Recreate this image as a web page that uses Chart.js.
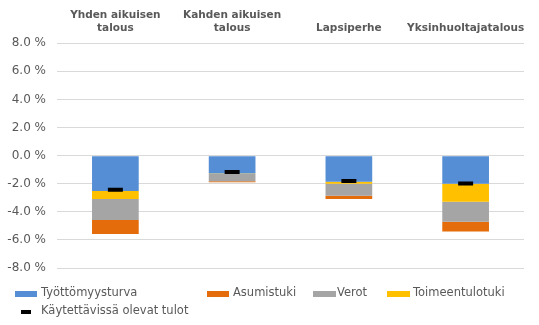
<!DOCTYPE html>
<html>
<head>
<meta charset="utf-8">
<script src="https://cdn.jsdelivr.net/npm/chart.js@4/dist/chart.umd.min.js"></script>
<style>
  html, body { margin: 0; padding: 0; background: #fff; }
  #wrap { width: 539px; height: 325px; }
</style>
</head>
<body>
<div id="wrap"><canvas id="chartCanvas" width="539" height="325"></canvas></div>
<script>
// kotitaloustyypit (x-akseli ylhäällä)
const categories = [['Yhden aikuisen', 'talous'], ['Kahden aikuisen', 'talous'], 'Lapsiperhe', 'Yksinhuoltajatalous'];

// muutokset prosentteina
const tyottomyysturva = [-2.52, -1.27, -1.86, -2.0];
const toimeentulotuki = [-0.57, -0.04, -0.14, -1.28];
const verot = [-1.49, -0.52, -0.85, -1.42];
const asumistuki = [-1.0, -0.07, -0.23, -0.71];
const kaytettavissaOlevatTulot = [-2.43, -1.17, -1.81, -1.98];

const yTicks = [-8, -6, -4, -2, 0, 2, 4, 6, 8];

const textColor = '#595959';
const fontFamily = '"DejaVu Sans", Verdana, sans-serif';

// legenda piirretään itse, Excel-tyyliset sarakkeet
const legendPlugin = {
  id: 'excelLegend',
  afterDraw(chart) {
    const ctx = chart.ctx;
    const items = [
      { ds: 0, box: [15, 291, 22, 6], text: 41, ty: 293 },
      { ds: 3, box: [207, 291, 22, 6], text: 233, ty: 293 },
      { ds: 2, box: [313, 291, 23, 6], text: 337, ty: 293 },
      { ds: 1, box: [387, 291, 23, 6], text: 413, ty: 293 },
      { ds: 4, box: [21, 310, 10, 4], text: 41, ty: 311 },
    ];
    ctx.save();
    ctx.font = '11.5px ' + fontFamily;
    ctx.textBaseline = 'middle';
    ctx.textAlign = 'left';
    items.forEach(item => {
      const dataset = chart.data.datasets[item.ds];
      ctx.fillStyle = dataset.legendColor || dataset.backgroundColor;
      ctx.fillRect(item.box[0], item.box[1], item.box[2], item.box[3]);
      ctx.fillStyle = textColor;
      ctx.fillText(dataset.label, item.text, item.ty);
    });
    ctx.restore();
  }
};

const ctx = document.getElementById('chartCanvas').getContext('2d');
new Chart(ctx, {
  type: 'bar',
  data: {
    labels: categories,
    datasets: [
      { label: 'Työttömyysturva', data: tyottomyysturva, backgroundColor: '#558ED5' },
      { label: 'Toimeentulotuki', data: toimeentulotuki, backgroundColor: '#FFC000' },
      { label: 'Verot', data: verot, backgroundColor: '#A5A5A5' },
      { label: 'Asumistuki', data: asumistuki, backgroundColor: '#E46C0A' },
      {
        type: 'line',
        label: 'Käytettävissä olevat tulot',
        data: kaytettavissaOlevatTulot,
        showLine: false,
        pointStyle: 'line',
        pointRadius: 7.5,
        pointBorderWidth: 4,
        borderColor: '#000',
        backgroundColor: '#000',
        legendColor: '#000',
        order: -1,
      },
    ],
  },
  options: {
    responsive: false,
    animation: false,
    datasets: {
      bar: { categoryPercentage: 1, barPercentage: 0.4 },
    },
    layout: { padding: { top: 5, right: 15, bottom: 57, left: 7 } },
    plugins: {
      legend: { display: false },
      tooltip: { enabled: false },
    },
    scales: {
      x: {
        position: 'top',
        stacked: true,
        grid: { display: false },
        border: { display: false },
        afterFit: axis => { axis.height += 4; },
        ticks: {
          color: textColor,
          font: { family: fontFamily, size: 10.5, weight: 'bold', lineHeight: 1.25 },
          padding: 0,
          maxRotation: 0,
          autoSkip: false,
        },
      },
      y: {
        stacked: true,
        min: yTicks[0],
        max: yTicks[yTicks.length - 1],
        afterBuildTicks: axis => { axis.ticks = yTicks.map(v => ({ value: v })); },
        afterFit: axis => { axis.width = 50; },
        grid: { color: '#D9D9D9', drawTicks: false },
        border: { display: false },
        ticks: {
          color: textColor,
          font: { family: fontFamily, size: 12 },
          padding: 11,
          callback: v => v.toFixed(1) + ' %',
        },
      },
    },
  },
  plugins: [legendPlugin],
});
</script>
</body>
</html>
